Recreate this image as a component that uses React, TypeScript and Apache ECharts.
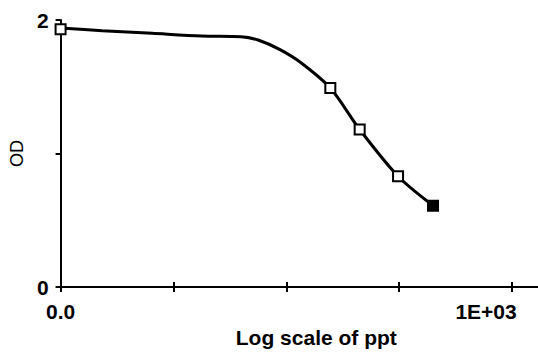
import React, { useEffect, useRef } from "react";
import * as echarts from "echarts";

// Measured points (x in log-axis units, 0..4 ticks)
const pointX = [0, 2.39, 2.65, 2.99, 3.3];
const pointY = [1.93, 1.49, 1.18, 0.83, 0.61];
// Fitted curve
const curveX = [0, 0.37, 0.81, 1.25, 1.6, 1.75, 1.94, 2.13, 2.39, 2.65, 2.99, 3.3];
const curveY = [1.94, 1.92, 1.9, 1.88, 1.875, 1.85, 1.78, 1.68, 1.49, 1.18, 0.83, 0.61];
const xTicks = [0, 1, 2, 3, 4];
const xTickLabels: Record<number, string> = { 0: "0.0", 4: "1E+03" };
const yTickLabels: Record<number, string> = { 0: "0", 2: "2" };

export default function App() {
  const ref = useRef<HTMLDivElement>(null);
  useEffect(() => {
    const chart = echarts.init(ref.current!, null, { renderer: "svg" });
    const font = "Liberation Sans, Arial, sans-serif";
    chart.setOption({
      animation: false,
      backgroundColor: "#fff",
      grid: { left: 58, right: 0, top: 20, bottom: 61 },
      xAxis: [
        {
          type: "value",
          min: 0,
          max: 4.23,
          interval: 1,
          splitLine: { show: false },
          axisLine: { lineStyle: { color: "#000", width: 2 } },
          axisTick: { show: true, length: 5, customValues: xTicks, lineStyle: { color: "#000", width: 2 } },
          axisLabel: {
            customValues: xTicks,
            margin: 14,
            fontSize: 21,
            fontWeight: "bold",
            fontFamily: font,
            color: "#000",
            formatter: (v: number) => {
              if (v === 4) return "{r|" + xTickLabels[4] + "}";
              return xTickLabels[v] ?? "";
            },
            rich: { r: { fontSize: 21, fontWeight: "bold", fontFamily: font, color: "#000", padding: [0, 52, 0, 0] } },
          },
          name: "Log scale of ppt",
          nameLocation: "middle",
          nameGap: 35,
          nameTextStyle: { fontSize: 21, fontWeight: "bold", fontFamily: font, color: "#000", padding: [0, 0, 0, 34] },
        },
        {
          type: "value",
          min: 0,
          max: 4.23,
          interval: 1,
          position: "bottom",
          splitLine: { show: false },
          axisLine: { show: false },
          axisTick: { show: true, inside: true, length: 5, customValues: xTicks, lineStyle: { color: "#000", width: 2 } },
          axisLabel: { show: false },
        },
      ],
      yAxis: {
        type: "value",
        min: 0,
        max: 2,
        interval: 1,
        splitLine: { show: false },
        axisLine: { lineStyle: { color: "#000", width: 2 } },
        axisTick: { show: true, length: 5, lineStyle: { color: "#000", width: 2 } },
        axisLabel: {
          margin: 12,
          fontSize: 21,
          fontWeight: "bold",
          fontFamily: font,
          color: "#000",
          formatter: (v: number) => yTickLabels[v] ?? "",
        },
        name: "OD",
        nameLocation: "middle",
        nameRotate: 90,
        nameGap: 31,
        nameTextStyle: { fontSize: 18, fontFamily: font, color: "#000" },
      },
      series: [
        {
          type: "line",
          data: curveX.map((x, i) => [x, curveY[i]]),
          showSymbol: false,
          smooth: 0.3,
          lineStyle: { color: "#000", width: 3 },
          z: 2,
        },
        {
          type: "scatter",
          data: pointX.map((x, i) => ({
            value: [x, pointY[i]],
            itemStyle: i === pointX.length - 1 ? { color: "#000" } : { color: "#fff" },
          })),
          symbol: "rect",
          symbolSize: 10,
          itemStyle: { borderColor: "#000", borderWidth: 2, opacity: 1 },
          z: 3,
        },
      ],
    });
    return () => chart.dispose();
  }, []);
  return <div ref={ref} style={{ width: 538, height: 353, position: "absolute", left: 0, top: 0 }} />;
}
